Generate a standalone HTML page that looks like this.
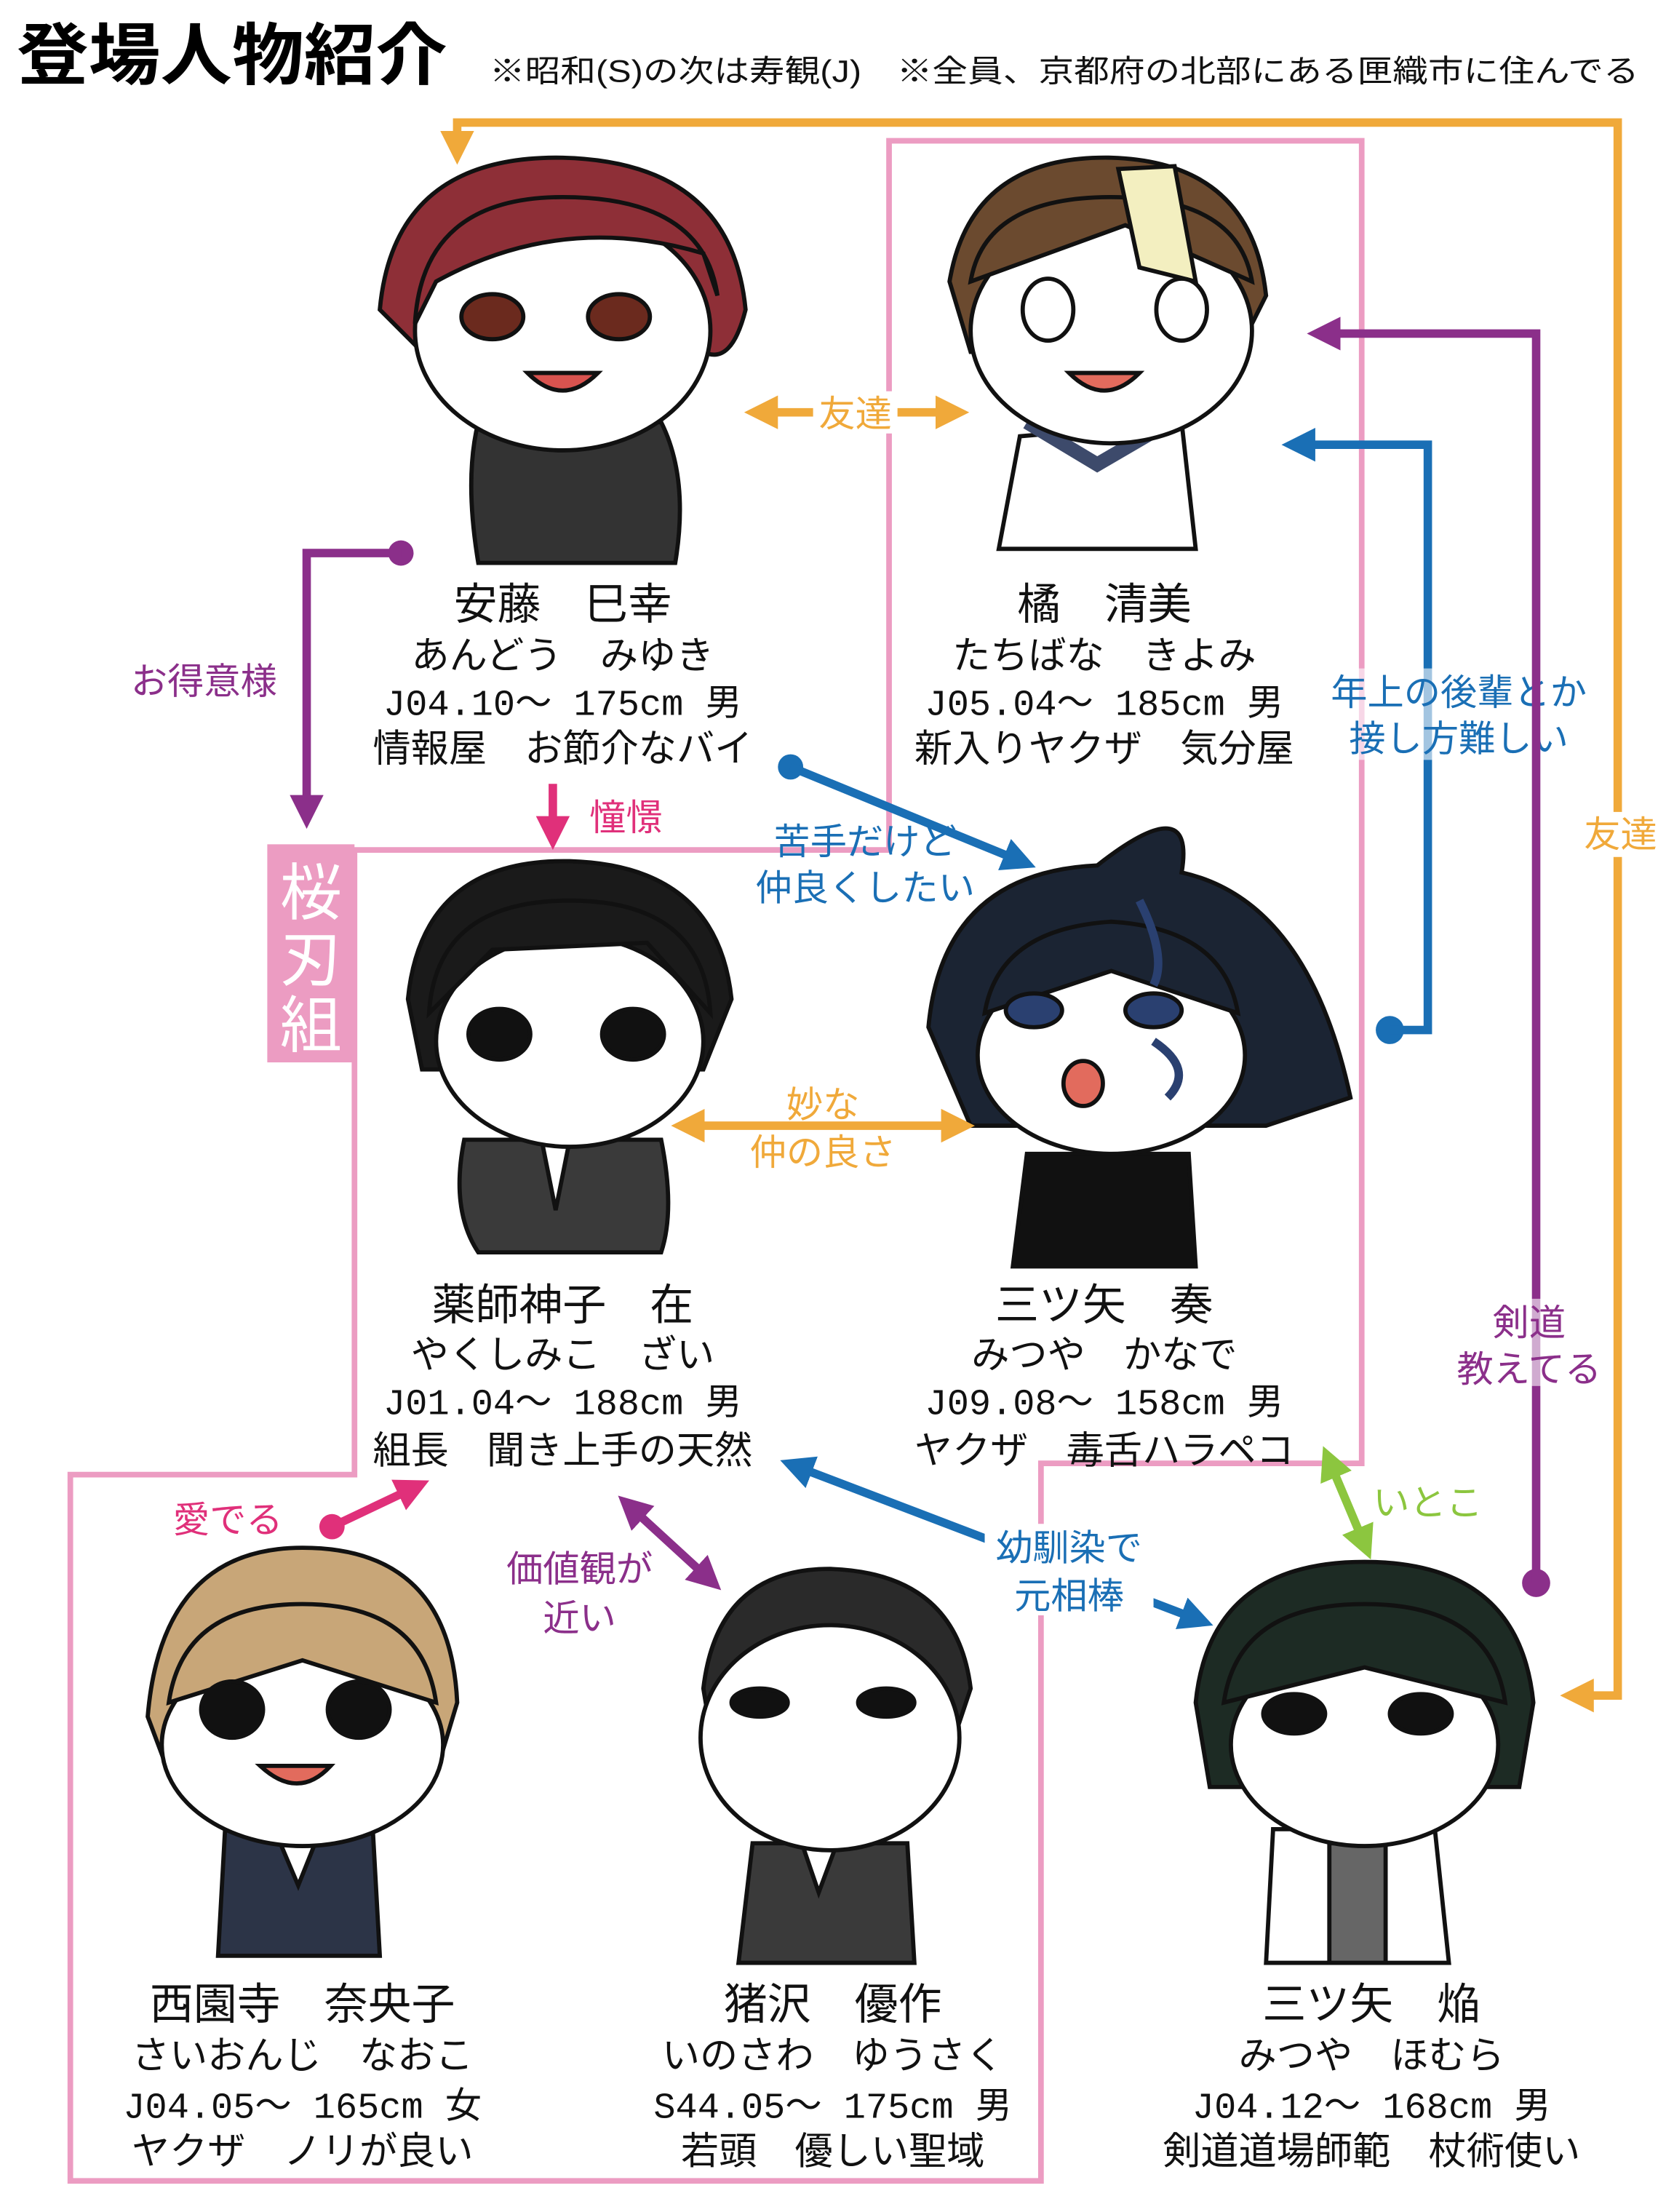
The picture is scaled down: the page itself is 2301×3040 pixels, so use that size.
<!DOCTYPE html>
<html><head><meta charset="utf-8"><style>
html,body{margin:0;padding:0;background:#fff}
svg{display:block}
text{font-family:"Liberation Sans","Noto Sans CJK JP",sans-serif}
.nm{font-size:31px;fill:#111;text-anchor:middle}
.rd{font-size:27px;fill:#111;text-anchor:middle}
.st{font-size:26px;fill:#111;text-anchor:middle;font-family:"Liberation Mono","Noto Sans CJK JP",monospace}
.lb{font-size:26px;text-anchor:middle}
</style></head><body>
<svg width="2301" height="3040" viewBox="0 0 1190 1572" xmlns="http://www.w3.org/2000/svg">
<defs>
<marker id="ao" markerWidth="4" markerHeight="4" refX="2.5" refY="2" orient="auto-start-reverse" markerUnits="strokeWidth"><path d="M0,0L4,2L0,4z" fill="#f0a93a"/></marker>
<marker id="ap" markerWidth="4" markerHeight="4" refX="2.5" refY="2" orient="auto-start-reverse" markerUnits="strokeWidth"><path d="M0,0L4,2L0,4z" fill="#8b2f8a"/></marker>
<marker id="ab" markerWidth="4" markerHeight="4" refX="2.5" refY="2" orient="auto-start-reverse" markerUnits="strokeWidth"><path d="M0,0L4,2L0,4z" fill="#1a6fb5"/></marker>
<marker id="ak" markerWidth="4" markerHeight="4" refX="2.5" refY="2" orient="auto-start-reverse" markerUnits="strokeWidth"><path d="M0,0L4,2L0,4z" fill="#e0307a"/></marker>
<marker id="ag" markerWidth="4" markerHeight="4" refX="2.5" refY="2" orient="auto-start-reverse" markerUnits="strokeWidth"><path d="M0,0L4,2L0,4z" fill="#8cc63f"/></marker>
</defs>
<text x="12" y="56" font-size="48" font-weight="bold" fill="#000" textLength="306" lengthAdjust="spacingAndGlyphs">登場人物紹介</text>
<text x="348" y="58" font-size="22" fill="#111" textLength="817" lengthAdjust="spacingAndGlyphs">※昭和(S)の次は寿観(J)　※全員、京都府の北部にある匣織市に住んでる</text>

<polygon points="632,100 968,100 968,1040 740,1040 740,1550 50,1550 50,1048 252,1048 252,604 545,604 632,604" fill="none" stroke="#ec9cc2" stroke-width="4"/>
<rect x="190" y="600" width="62" height="155" fill="#ec9cc2"/>
<text x="221" y="650" font-size="44" fill="#fff" text-anchor="middle">桜</text>
<text x="221" y="697" font-size="44" fill="#fff" text-anchor="middle">刃</text>
<text x="221" y="744" font-size="44" fill="#fff" text-anchor="middle">組</text>

<polyline points="325,108 325,87 1150,87 1150,1205 1118,1205" fill="none" stroke="#f0a93a" stroke-width="6" marker-start="url(#ao)" marker-end="url(#ao)"/>
<rect x="1120" y="577" width="62" height="32" fill="#fff"/>
<text x="1152" y="602" class="lb" fill="#f0a93a">友達</text>

<g stroke="#111" stroke-width="3">
<path d="M340,300 Q330,340 340,400 L480,400 Q490,340 470,300z" fill="#333"/>
<path d="M270,220 Q280,110 400,112 Q520,115 530,220 Q520,260 500,250 L300,250z" fill="#8e2f37"/>
<ellipse cx="400" cy="235" rx="105" ry="85" fill="#fff"/>
<path d="M295,230 Q300,140 400,140 Q500,140 510,210 L500,180 Q400,150 310,200z" fill="#8e2f37"/>
<ellipse cx="350" cy="225" rx="22" ry="16" fill="#6b2a1e"/>
<ellipse cx="440" cy="225" rx="22" ry="16" fill="#6b2a1e"/>
<path d="M375,265 Q400,290 425,265z" fill="#d9534f"/>
<path d="M725,310 L710,390 L850,390 L840,300z" fill="#fff"/>
<path d="M730,300 L780,330 L840,295" fill="none" stroke="#3d4a6b" stroke-width="10"/>
<path d="M675,200 Q690,110 790,112 Q890,115 900,210 L880,250 L690,250z" fill="#6b4a2f"/>
<ellipse cx="790" cy="235" rx="100" ry="80" fill="#fff"/>
<path d="M690,200 Q700,140 790,140 Q880,140 890,200 L800,160z" fill="#6b4a2f"/>
<path d="M795,120 L835,118 L850,200 L810,190z" fill="#f3efc0"/>
<ellipse cx="745" cy="220" rx="18" ry="22" fill="#fff"/>
<ellipse cx="840" cy="220" rx="18" ry="22" fill="#fff"/>
<path d="M760,265 Q785,290 810,265z" fill="#e26b5d"/>
<path d="M330,810 Q320,860 340,890 L470,890 Q480,860 470,810z" fill="#3a3a3a"/>
<path d="M385,810 L395,860 L405,810z" fill="#fff"/>
<path d="M290,710 Q300,610 405,612 Q510,615 520,710 L500,760 L300,760z" fill="#1a1a1a"/>
<ellipse cx="405" cy="740" rx="95" ry="75" fill="#fff"/>
<path d="M305,720 Q310,640 405,640 Q500,640 505,720 L460,670 L350,675z" fill="#1a1a1a"/>
<ellipse cx="355" cy="735" rx="22" ry="18" fill="#111"/>
<ellipse cx="450" cy="735" rx="22" ry="18" fill="#111"/>
<path d="M730,820 L720,900 L850,900 L845,820z" fill="#111"/>
<path d="M660,730 Q670,620 780,615 Q850,560 840,620 Q930,640 960,780 L900,800 L690,800z" fill="#1b2433"/>
<ellipse cx="790" cy="750" rx="95" ry="70" fill="#fff"/>
<path d="M700,720 Q710,660 790,655 Q870,660 880,720 L790,690z" fill="#1b2433"/>
<ellipse cx="735" cy="718" rx="20" ry="12" fill="#2a4070"/>
<ellipse cx="820" cy="718" rx="20" ry="12" fill="#2a4070"/>
<path d="M810,640 Q830,680 820,700 M820,740 Q850,760 830,780" fill="none" stroke="#2a4070" stroke-width="6"/>
<ellipse cx="770" cy="770" rx="14" ry="16" fill="#e26b5d"/>
<path d="M160,1300 L155,1390 L270,1390 L265,1300z" fill="#2c3447"/>
<path d="M195,1300 L212,1340 L228,1300z" fill="#fff"/>
<path d="M105,1220 Q115,1100 215,1100 Q320,1100 325,1210 L310,1260 L120,1260z" fill="#c8a678"/>
<ellipse cx="215" cy="1240" rx="100" ry="72" fill="#fff"/>
<path d="M120,1210 Q130,1140 215,1140 Q300,1140 310,1210 L215,1180z" fill="#c8a678"/>
<ellipse cx="165" cy="1215" rx="22" ry="20" fill="#111"/>
<ellipse cx="255" cy="1215" rx="22" ry="20" fill="#111"/>
<path d="M185,1255 Q212,1280 235,1255z" fill="#e26b5d"/>
<path d="M535,1310 L525,1395 L650,1395 L645,1310z" fill="#3a3a3a"/>
<path d="M570,1310 L582,1345 L595,1310z" fill="#fff"/>
<path d="M500,1200 Q510,1115 590,1115 Q680,1118 690,1200 L680,1230 L505,1230z" fill="#2a2a2a"/>
<ellipse cx="590" cy="1235" rx="92" ry="80" fill="#fff"/>
<ellipse cx="540" cy="1210" rx="20" ry="10" fill="#111"/>
<ellipse cx="630" cy="1210" rx="20" ry="10" fill="#111"/>
<path d="M905,1300 L900,1395 L1030,1395 L1020,1300z" fill="#fff"/>
<path d="M945,1310 L945,1395 L985,1395 L985,1310z" fill="#666"/>
<path d="M850,1210 Q860,1110 970,1110 Q1080,1110 1090,1210 L1080,1270 L860,1270z" fill="#1d2b24"/>
<ellipse cx="970" cy="1240" rx="95" ry="72" fill="#fff"/>
<path d="M870,1210 Q880,1140 970,1140 Q1060,1140 1070,1210 L970,1185z" fill="#1d2b24"/>
<ellipse cx="920" cy="1218" rx="22" ry="14" fill="#111"/>
<ellipse cx="1010" cy="1218" rx="22" ry="14" fill="#111"/>
</g>

<text x="400" y="440" class="nm">安藤　巳幸</text>
<text x="400" y="475" class="rd">あんどう　みゆき</text>
<text x="400" y="508" class="st">J04.10～ 175cm 男</text>
<text x="400" y="541" class="rd">情報屋　お節介なバイ</text>
<text x="785" y="440" class="nm">橘　清美</text>
<text x="785" y="475" class="rd">たちばな　きよみ</text>
<text x="785" y="508" class="st">J05.04～ 185cm 男</text>
<text x="785" y="541" class="rd">新入りヤクザ　気分屋</text>
<text x="400" y="938" class="nm">薬師神子　在</text>
<text x="400" y="972" class="rd">やくしみこ　ざい</text>
<text x="400" y="1005" class="st">J01.04～ 188cm 男</text>
<text x="400" y="1040" class="rd">組長　聞き上手の天然</text>
<text x="785" y="938" class="nm">三ツ矢　奏</text>
<text x="785" y="972" class="rd">みつや　かなで</text>
<text x="785" y="1005" class="st">J09.08～ 158cm 男</text>
<text x="785" y="1040" class="rd">ヤクザ　毒舌ハラペコ</text>
<text x="215" y="1435" class="nm">西園寺　奈央子</text>
<text x="215" y="1470" class="rd">さいおんじ　なおこ</text>
<text x="215" y="1505" class="st">J04.05～ 165cm 女</text>
<text x="215" y="1538" class="rd">ヤクザ　ノリが良い</text>
<text x="592" y="1435" class="nm">猪沢　優作</text>
<text x="592" y="1470" class="rd">いのさわ　ゆうさく</text>
<text x="592" y="1505" class="st">S44.05～ 175cm 男</text>
<text x="592" y="1538" class="rd">若頭　優しい聖域</text>
<text x="975" y="1435" class="nm">三ツ矢　焔</text>
<text x="975" y="1470" class="rd">みつや　ほむら</text>
<text x="975" y="1505" class="st">J04.12～ 168cm 男</text>
<text x="975" y="1538" class="rd">剣道道場師範　杖術使い</text>

<line x1="538" y1="293" x2="680" y2="293" stroke="#f0a93a" stroke-width="6" marker-start="url(#ao)" marker-end="url(#ao)"/>
<rect x="578" y="278" width="60" height="30" fill="#fff"/>
<text x="608" y="303" class="lb" fill="#f0a93a">友達</text>

<circle cx="285" cy="393" r="9" fill="#8b2f8a"/>
<polyline points="285,393 218,393 218,580" fill="none" stroke="#8b2f8a" stroke-width="6" marker-end="url(#ap)"/>
<text x="145" y="493" class="lb" fill="#8b2f8a">お得意様</text>

<line x1="393" y1="557" x2="393" y2="595" stroke="#e0307a" stroke-width="6" marker-end="url(#ak)"/>
<text x="445" y="590" class="lb" fill="#e0307a">憧憬</text>

<circle cx="562" cy="545" r="9" fill="#1a6fb5"/>
<line x1="562" y1="545" x2="728" y2="613" stroke="#1a6fb5" stroke-width="6" marker-end="url(#ab)"/>
<text x="615" y="607" class="lb" fill="#1a6fb5">苦手だけど</text>
<text x="615" y="640" class="lb" fill="#1a6fb5">仲良くしたい</text>

<line x1="486" y1="800" x2="684" y2="800" stroke="#f0a93a" stroke-width="6" marker-start="url(#ao)" marker-end="url(#ao)"/>
<text x="585" y="794" class="lb" fill="#f0a93a">妙な</text>
<text x="585" y="828" class="lb" fill="#f0a93a">仲の良さ</text>

<circle cx="988" cy="732" r="10" fill="#1a6fb5"/>
<polyline points="988,732 1015,732 1015,316 920,316" fill="none" stroke="#1a6fb5" stroke-width="6" marker-end="url(#ab)"/>
<rect x="940" y="475" width="195" height="65" fill="#fff" opacity="0.6"/>
<text x="1037" y="501" class="lb" fill="#1a6fb5">年上の後輩とか</text>
<text x="1037" y="534" class="lb" fill="#1a6fb5">接し方難しい</text>

<circle cx="1092" cy="1125" r="10" fill="#8b2f8a"/>
<polyline points="1092,1125 1092,237 938,237" fill="none" stroke="#8b2f8a" stroke-width="6" marker-end="url(#ap)"/>
<rect x="1030" y="923" width="115" height="62" fill="#fff" opacity="0.6"/>
<text x="1087" y="949" class="lb" fill="#8b2f8a">剣道</text>
<text x="1087" y="982" class="lb" fill="#8b2f8a">教えてる</text>

<line x1="944" y1="1036" x2="971" y2="1100" stroke="#8cc63f" stroke-width="6" marker-start="url(#ag)" marker-end="url(#ag)"/>
<text x="1015" y="1077" class="lb" fill="#8cc63f">いとこ</text>

<line x1="563" y1="1041" x2="854" y2="1152" stroke="#1a6fb5" stroke-width="6" marker-start="url(#ab)" marker-end="url(#ab)"/>
<rect x="700" y="1083" width="120" height="65" fill="#fff"/>
<text x="760" y="1109" class="lb" fill="#1a6fb5">幼馴染で</text>
<text x="760" y="1143" class="lb" fill="#1a6fb5">元相棒</text>

<line x1="446" y1="1069" x2="506" y2="1124" stroke="#8b2f8a" stroke-width="6" marker-start="url(#ap)" marker-end="url(#ap)"/>
<text x="412" y="1124" class="lb" fill="#8b2f8a">価値観が</text>
<text x="412" y="1159" class="lb" fill="#8b2f8a">近い</text>

<circle cx="236" cy="1085" r="9" fill="#e0307a"/>
<line x1="236" y1="1085" x2="297" y2="1056" stroke="#e0307a" stroke-width="6" marker-end="url(#ak)"/>
<text x="162" y="1089" class="lb" fill="#e0307a">愛でる</text>
</svg>
</body></html>
